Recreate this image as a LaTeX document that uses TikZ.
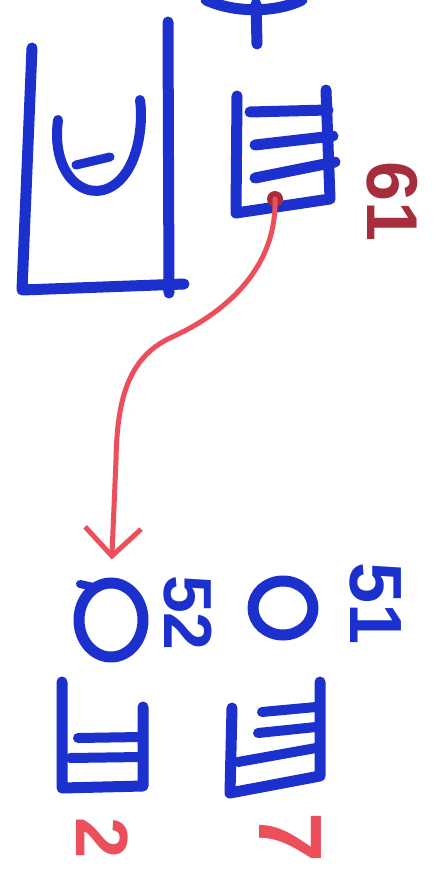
\documentclass[tikz,border=0pt]{standalone}
\usepackage{fontspec}
\setmainfont{Liberation Sans}
\usepackage{tikz}
\usetikzlibrary{arrows.meta,shapes.geometric,positioning}
\definecolor{penblue}{RGB}{28,48,205}
\definecolor{penred}{RGB}{236,78,90}
\definecolor{pendark}{RGB}{165,45,60}

\begin{document}
\begin{tikzpicture}[x=1pt,y=-1pt,line cap=round,line join=round,
        pen/.style={penblue,line width=11pt},
        scrawl/.style={rotate=-90,font=\bfseries\fontsize{#1}{#1}\selectfont}]
    \useasboundingbox[fill=white] (0,0) rectangle (440,877);
    % flask foot at the top
    \draw[pen] (206,0) .. controls (235,13) and (275,13) .. (302,0);
    \draw[pen] (256,4) -- (257,44);
    % big tank with the cup
    \draw[pen] (32,48) -- (22,290) -- (184,284);
    \draw[pen] (168,22) -- (169,293);
    \draw[pen,line width=10pt] (58,120) .. controls (50,180) and (92,208) .. (120,180) .. controls (140,160) and (143,120) .. (140,100);
    \draw[pen,line width=9pt] (76,165) -- (110,157);
    % beaker at the top
    \draw[pen] (237,96) -- (236,213) -- (330,199) -- (326,90);
    \foreach \a/\b in {{(250,112)/(328,110)},{(255,145)/(333,136)},{(255,178)/(335,162)}}
        {\draw[pen] \a -- \b;}
    \coordinate (tdot) at (275,199);
    \fill[pendark] (tdot) circle (8);
    \node[pendark,scrawl=72] (lab61) at (392,202) {61};
    % the two samples below
    \node[ellipse,draw,pen,minimum width=64pt,minimum height=74pt,inner sep=0pt] (o1) at (111,620) {};
    \draw[pen,line width=8pt] (80,584) -- (98,588);
    \node[ellipse,draw,pen,minimum width=60pt,minimum height=54pt,inner sep=0pt] (o2) at (283,608) {};
    \node[penblue,scrawl=68] (lab52) at (188,613) {52};
    \node[penblue,scrawl=74] (lab51) at (376,604) {51};
    \draw[penred,line width=5pt,-{Straight Barb[length=28pt,width=56pt]},shorten >=18pt]
        (tdot) .. controls (277,275) and (215,318) .. (170,338) .. controls (128,358) and (117,400) .. (116,460) -- (o1.north);
    % small beakers
    \draw[pen] (62,682) -- (62,788) -- (143,786) -- (143,707);
    \foreach \a/\b in {{(78,738)/(141,737)},{(70,758)/(141,757)}}
        {\draw[pen,line width=10pt] \a -- \b;}
    \draw[pen] (232,708) -- (230,793) -- (320,776) -- (320,682);
    \foreach \a/\b in {{(262,712)/(316,707)},{(258,733)/(316,727)},{(238,762)/(316,748)}}
        {\draw[pen,line width=10pt] \a -- \b;}
    \node[penred,scrawl=74] (lab2) at (102,838) {2};
    \node[penred,scrawl=90] (lab7) at (290,838) {7};
\end{tikzpicture}
\end{document}
